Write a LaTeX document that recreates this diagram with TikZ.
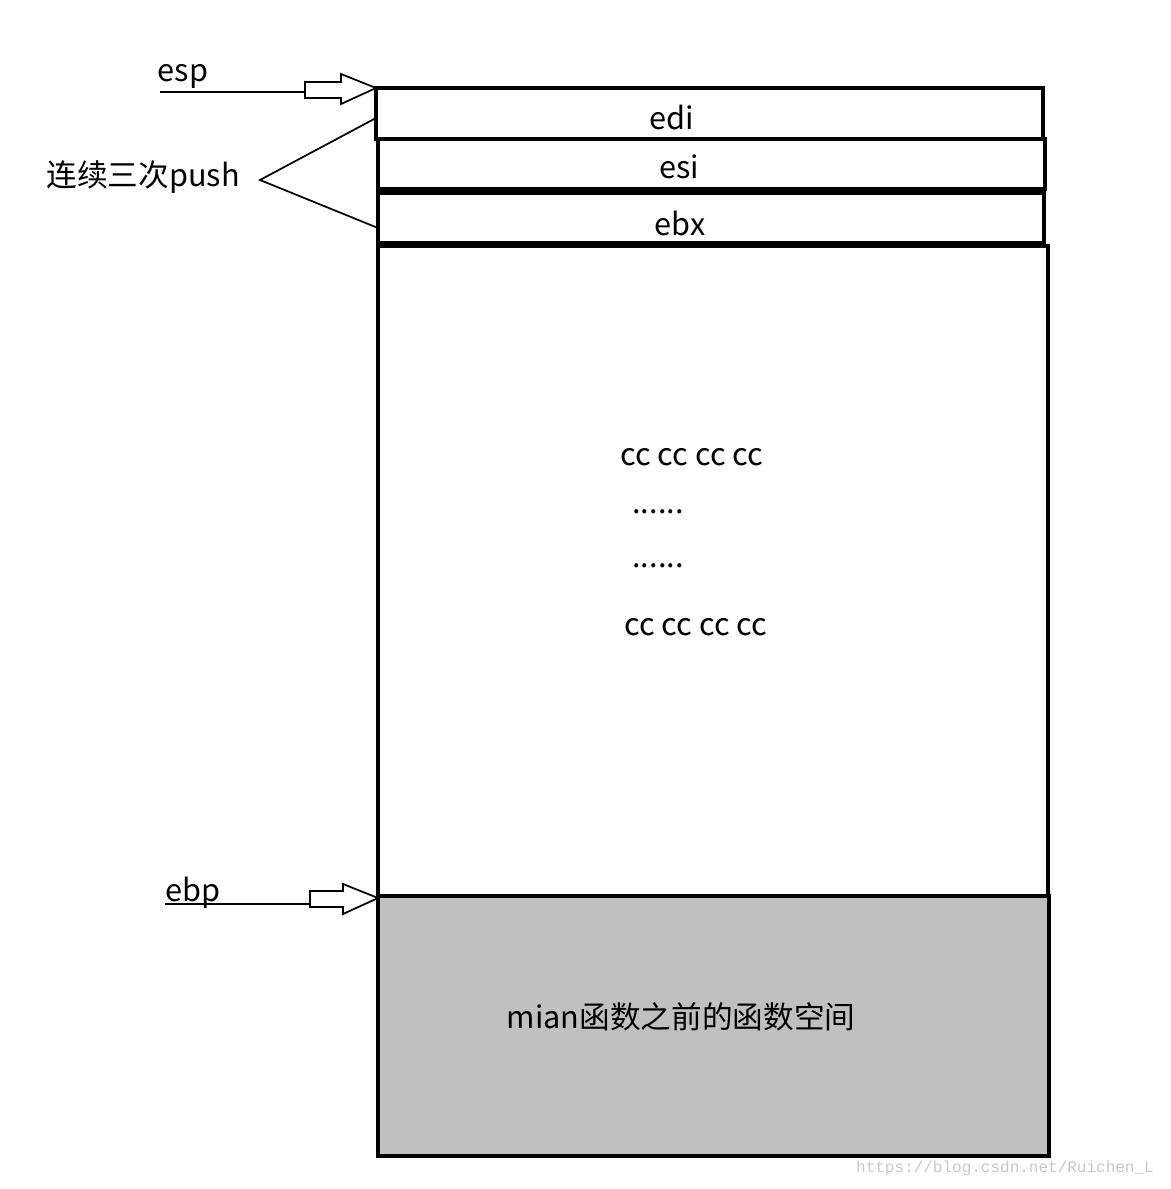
\documentclass[tikz,border=0pt]{standalone}
\usepackage{fontspec}
\setmainfont{Noto Sans CJK SC}
\newfontfamily\wm{Liberation Mono}
\begin{document}
\begin{tikzpicture}[x=0.75pt,y=-0.75pt,
  cell/.style={draw,line width=3pt},
  lbl/.style={font=\fontsize{23}{26}\selectfont,inner sep=0pt},
  thin/.style={line width=1.3pt}]
\useasboundingbox (0,0) rectangle (1171,1189);
\fill[white] (0,0) rectangle (1171,1189);
% cells
\draw[cell] (376,88) rectangle (1043,139);
\draw[cell] (378,139) rectangle (1045,189);
\draw[cell] (378,193) rectangle (1044,243);
\draw[cell] (378,246) rectangle (1048,896);
\draw[cell,fill={rgb,255:red,192;green,192;blue,192}] (378,896) rectangle (1049,1156);
\node[lbl] (edi) at (672,117) {edi};
\node[lbl] (esi) at (679,167) {esi};
\node[lbl] (ebx) at (680,223) {ebx};
\node[lbl] (c1) at (692,457) {cc cc cc cc};
\node[lbl] (d1) at (658,512) {......};
\node[lbl] (d2) at (658,566) {......};
\node[lbl] (c2) at (696,627) {cc cc cc cc};
\node[lbl] (mian) at (681,1017) {mian函数之前的函数空间};
% esp
\node[lbl] (esp) at (183,76) {esp};
\coordinate (espT) at (376,88);
\draw[thin] (160,92) -- (305,92);
\draw[thin] (305,82) -- (341,82) -- (341,74) -- (espT) -- (341,104) -- (341,98) -- (305,98) -- cycle;
% ebp
\node[lbl] (ebp) at (193,893) {ebp};
\coordinate (ebpT) at (378,898);
\draw[thin] (165,904) -- (310,904);
\draw[thin] (310,891) -- (343,891) -- (343,884) -- (ebpT) -- (343,914) -- (343,907) -- (310,907) -- cycle;
% push
\node[lbl] (push) at (143,177) {连续三次push};
\coordinate (pv) at (260,180);
\draw[thin] (376,118) -- (pv) -- (378,228);
\node[font=\wm\fontsize{12}{14}\selectfont,text={rgb,255:red,200;green,200;blue,200}] (w) at (1005,1168) {https://blog.csdn.net/Ruichen\_L};
\end{tikzpicture}
\end{document}
